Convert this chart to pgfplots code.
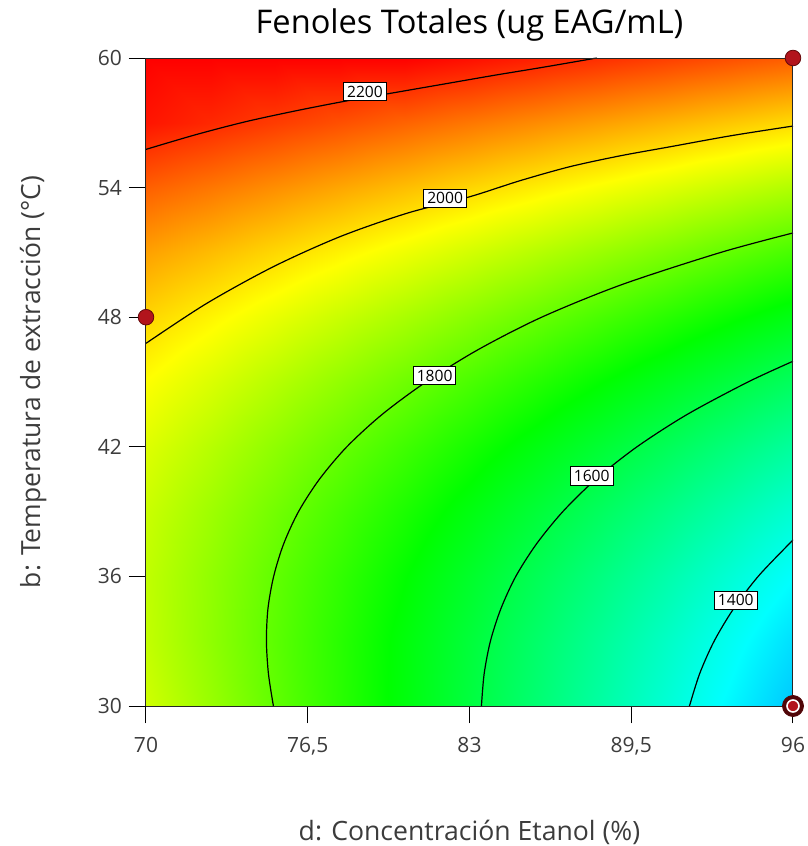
\documentclass[border=0pt]{standalone}
\usepackage{fontspec}
\setmainfont{Open Sans}
\usepackage{pgfplots}
\pgfplotsset{compat=1.18}
\definecolor{ptfill}{RGB}{178,20,28}
\definecolor{ptedge}{RGB}{100,8,10}
\definecolor{ptouter}{RGB}{80,6,8}
\definecolor{txtgray}{RGB}{60,60,60}
\begin{document}
\begin{tikzpicture}
\begin{axis}[
  view={0}{90},
  scale only axis,
  width=323.5pt, height=324pt,
  xmin=70, xmax=96, ymin=30, ymax=60,
  xtick={70,76.5,83,89.5,96},
  ytick={30,36,42,48,54,60},
  tick pos=left,
  tick align=outside,
  major tick length=8.5pt,
  tick style={black, line width=0.5pt},
  axis line style={black!85, line width=0.5pt},
  axis on top,
  clip=false,
  colormap={de}{rgb255(0cm)=(0,0,255) rgb255(3.2cm)=(0,255,255) rgb255(6.4cm)=(0,255,0) rgb255(9.25cm)=(255,255,0) rgb255(12.15cm)=(255,0,0)},
  point meta min=1050, point meta max=2265,
  /pgf/number format/use comma,
  /pgf/number format/assume math mode=true,
  ticklabel style={font=\fontsize{10.5}{12}\selectfont, text=txtgray},
  xticklabel style={yshift=-3.5pt},
  title={Fenoles Totales (ug EAG/mL)},
  title style={font=\fontsize{16.3}{19}\selectfont, at={(axis description cs:0.5,1)}, anchor=base, yshift=6.5pt},
  xlabel={d: Concentración Etanol (\%)},
  xlabel style={font=\fontsize{13.3}{16}\selectfont, text=txtgray, at={(axis description cs:0.5,0)}, anchor=base, yshift=-67pt},
  ylabel={b: Temperatura de extracción (°C)},
  ylabel style={font=\fontsize{13.2}{16}\selectfont, text=txtgray, at={(axis description cs:-0.1638,0.5)}, anchor=base, rotate=0},
]
\addplot3[surf, shader=interp, point meta=\thisrow{f}] table[x=d, y=b, z=f] {
d b f
70 30 1922.5
72.6 30 1860.3
75.2 30 1798.1
77.8 30 1735.9
80.4 30 1673.7
83 30 1611.5
85.6 30 1549.3
88.2 30 1487.1
90.8 30 1424.9
93.4 30 1362.7
96 30 1300.5

70 33 1907.6
72.6 33 1849.8
75.2 33 1792.0
77.8 33 1734.2
80.4 33 1676.4
83 33 1618.6
85.6 33 1560.8
88.2 33 1503.0
90.8 33 1445.2
93.4 33 1387.4
96 33 1329.6

70 36 1905.3
72.6 36 1851.9
75.2 36 1798.5
77.8 36 1745.1
80.4 36 1691.7
83 36 1638.3
85.6 36 1584.9
88.2 36 1531.5
90.8 36 1478.1
93.4 36 1424.7
96 36 1371.3

70 39 1915.6
72.6 39 1866.6
75.2 39 1817.6
77.8 39 1768.6
80.4 39 1719.6
83 39 1670.6
85.6 39 1621.6
88.2 39 1572.6
90.8 39 1523.6
93.4 39 1474.6
96 39 1425.6

70 42 1938.5
72.6 42 1893.9
75.2 42 1849.3
77.8 42 1804.7
80.4 42 1760.1
83 42 1715.5
85.6 42 1670.9
88.2 42 1626.3
90.8 42 1581.7
93.4 42 1537.1
96 42 1492.5

70 45 1974.0
72.6 45 1933.8
75.2 45 1893.6
77.8 45 1853.4
80.4 45 1813.2
83 45 1773.0
85.6 45 1732.8
88.2 45 1692.6
90.8 45 1652.4
93.4 45 1612.2
96 45 1572.0

70 48 2022.1
72.6 48 1986.3
75.2 48 1950.5
77.8 48 1914.7
80.4 48 1878.9
83 48 1843.1
85.6 48 1807.3
88.2 48 1771.5
90.8 48 1735.7
93.4 48 1699.9
96 48 1664.1

70 51 2082.8
72.6 51 2051.4
75.2 51 2020.0
77.8 51 1988.6
80.4 51 1957.2
83 51 1925.8
85.6 51 1894.4
88.2 51 1863.0
90.8 51 1831.6
93.4 51 1800.2
96 51 1768.8

70 54 2156.1
72.6 54 2129.1
75.2 54 2102.1
77.8 54 2075.1
80.4 54 2048.1
83 54 2021.1
85.6 54 1994.1
88.2 54 1967.1
90.8 54 1940.1
93.4 54 1913.1
96 54 1886.1

70 57 2242.0
72.6 57 2219.4
75.2 57 2196.8
77.8 57 2174.2
80.4 57 2151.6
83 57 2129.0
85.6 57 2106.4
88.2 57 2083.8
90.8 57 2061.2
93.4 57 2038.6
96 57 2016.0

70 60 2340.5
72.6 60 2322.3
75.2 60 2304.1
77.8 60 2285.9
80.4 60 2267.7
83 60 2249.5
85.6 60 2231.3
88.2 60 2213.1
90.8 60 2194.9
93.4 60 2176.7
96 60 2158.5
};
% contour lines
\addplot3[black, line width=0.6pt, smooth, mark=none] coordinates {
(70,55.77,2200) (72,56.45,2200) (74,57.05,2200) (76,57.55,2200) (78,58.0,2200) (80,58.4,2200) (82,58.8,2200) (84,59.2,2200) (86,59.58,2200) (88.11,60,2200)};
\addplot3[black, line width=0.6pt, smooth, mark=none] coordinates {
(70,46.79,2000) (72.44,48.64,2000) (75.12,50.34,2000) (77.80,51.73,2000) (80.48,52.81,2000) (83.02,53.58,2000) (85.03,54.32,2000) (87.04,54.97,2000) (89.05,55.47,2000) (91.06,55.89,2000) (93.5,56.40,2000) (96,56.85,2000)};
\addplot3[black, line width=0.6pt, smooth, mark=none] coordinates {
(75.12,30,1800) (74.92,31.5,1800) (74.84,33,1800) (74.90,34.5,1800) (75.13,36,1800) (75.53,37.5,1800) (76.13,39,1800) (76.97,40.5,1800) (78.07,42,1800) (79.49,43.5,1800) (81.25,45,1800) (83.35,46.5,1800) (85.9,48,1800) (89.1,49.5,1800) (93.1,51,1800) (96,51.9,1800)};
\addplot3[black, line width=0.6pt, smooth, mark=none] coordinates {
(83.48,30,1600) (83.59,31.5,1600) (83.84,33,1600) (84.26,34.5,1600) (84.86,36,1600) (85.69,37.5,1600) (86.75,39,1600) (88.08,40.5,1600) (89.73,42,1600) (91.75,43.5,1600) (94.19,45,1600) (96,45.96,1600)};
\addplot3[black, line width=0.6pt, smooth, mark=none] coordinates {
(91.84,30,1400) (92.25,31.5,1400) (92.83,33,1400) (93.61,34.5,1400) (94.60,36,1400) (95.84,37.5,1400) (96,37.67,1400)};
% contour labels
\addplot3[only marks, mark=none, nodes near coords, point meta=explicit symbolic,
  every node near coord/.style={anchor=center, draw=black, line width=0.4pt, fill=white, text=black, inner sep=1.7pt, font=\fontsize{7.8}{9}\selectfont}]
coordinates {
(78.8,58.45,2200) [2200]
(82.02,53.5,2000) [2000]
(81.6,45.3,1800) [1800]
(87.91,40.65,1600) [1600]
(93.70,34.9,1400) [1400]
};
% design points
\addplot3[only marks, mark=*, mark size=3.9pt, mark options={fill=ptfill, draw=ptedge, line width=0.4pt}] coordinates {(96,60,2500) (70,48,2500)};
\addplot3[only marks, mark=*, mark size=5.3pt, mark options={fill=ptouter, draw=ptouter, line width=0.3pt}] coordinates {(96,30,2500)};
\addplot3[only marks, mark=*, mark size=3.0pt, mark options={fill=ptfill, draw=white, line width=0.8pt}] coordinates {(96,30,2500)};
\end{axis}
\pgfresetboundingbox
\path (current axis.south west) ++(-73pt,-70pt) rectangle ([xshift=7.5pt,yshift=29pt]current axis.north east);
\end{tikzpicture}
\end{document}
